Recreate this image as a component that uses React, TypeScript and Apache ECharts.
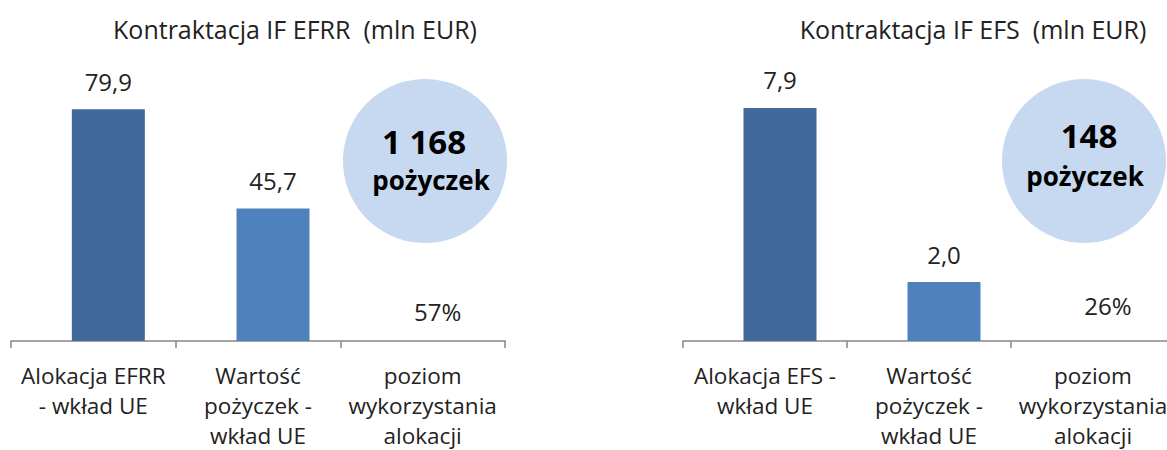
import React, { useEffect, useRef } from "react";
import * as echarts from "echarts";

const titleLeft = "Kontraktacja IF EFRR  (mln EUR)";
const titleRight = "Kontraktacja IF EFS  (mln EUR)";
const categoriesLeft = ["Alokacja EFRR\n- wkład UE", "Wartość\npożyczek -\nwkład UE", "poziom\nwykorzystania\nalokacji"];
const categoriesRight = ["Alokacja EFS -\nwkład UE", "Wartość\npożyczek -\nwkład UE", "poziom\nwykorzystania\nalokacji"];
// mln EUR values; third entry is the utilisation ratio (shown as %)
const valuesLeft = [79.9, 45.7, 0.57];
const valuesRight = [7.9, 2.0, 0.26];
const loansLeft = "1 168";
const loansRight = "148";
const loansWord = "pożyczek";

const FONT = "Open Sans";
const DARK = "#41699b";
const LIGHT = "#4f81bd";
const TEXT = "#222";
const CANVAS_W = 1220;

function fmtValue(v: number, i: number) {
  if (i === 2) return Math.round(v * 100) + "%";
  return v.toFixed(1).replace(".", ",");
}

function makeData(values: number[]) {
  return values.map((v, i) => ({
    value: v,
    itemStyle: { color: i === 0 ? DARK : i === 1 ? LIGHT : "transparent" },
  }));
}

export default function App() {
  const ref = useRef<HTMLDivElement>(null);
  useEffect(() => {
    if (!ref.current) return;
    const chart = echarts.init(ref.current, null, { renderer: "svg" });
    const visibleAxis = {
      type: "category" as const,
      axisLine: { lineStyle: { color: "#868686", width: 1.5 } },
      axisTick: { show: true, length: 7, lineStyle: { color: "#868686", width: 1.5 } },
      axisLabel: {
        interval: 0,
        hideOverlap: false,
        fontFamily: FONT,
        fontSize: 22.5,
        color: TEXT,
        lineHeight: 30,
        margin: 19,
      },
    };
    const hiddenAxis = { type: "category" as const, show: false };
    const labelCommon = {
      show: true,
      position: "top" as const,
      distance: 16,
      fontFamily: FONT,
      fontSize: 24,
      color: TEXT,
      formatter: (p: any) => fmtValue(p.value, p.dataIndex),
    };
    const titleStyle = { fontFamily: FONT, fontSize: 25, fontWeight: "normal" as const, color: TEXT };
    const bigText = { fontFamily: FONT, fontSize: 33, fontWeight: "bold" as const, fill: "#000", align: "center" as const, verticalAlign: "middle" as const };
    const smallText = { fontFamily: FONT, fontSize: 26, fontWeight: "bold" as const, fill: "#000", align: "center" as const, verticalAlign: "middle" as const };
    chart.setOption({
      animation: false,
      title: [
        { text: titleLeft, left: 290, top: 11, textAlign: "center", textStyle: titleStyle },
        { text: titleRight, left: 968, top: 11, textAlign: "center", textStyle: titleStyle },
      ],
      grid: [
        { left: 11, width: 494, top: 51, height: 290 },
        { left: 26, width: 494, top: 51, height: 290 },
        { left: 683, width: 492, top: 46, height: 295 },
        { left: 698, width: 492, top: 46, height: 295 },
      ],
      xAxis: [
        { ...visibleAxis, gridIndex: 0, data: categoriesLeft },
        { ...hiddenAxis, gridIndex: 1, data: categoriesLeft },
        { ...visibleAxis, gridIndex: 2, data: categoriesRight },
        { ...hiddenAxis, gridIndex: 3, data: categoriesRight },
      ],
      yAxis: [
        { type: "value", gridIndex: 0, min: 0, max: 100, show: false },
        { type: "value", gridIndex: 1, min: 0, max: 100, show: false },
        { type: "value", gridIndex: 2, min: 0, max: 10, show: false },
        { type: "value", gridIndex: 3, min: 0, max: 10, show: false },
      ],
      series: [
        {
          type: "bar",
          xAxisIndex: 1,
          yAxisIndex: 1,
          barWidth: 73,
          data: makeData(valuesLeft),
          label: labelCommon,
        },
        {
          type: "bar",
          xAxisIndex: 3,
          yAxisIndex: 3,
          barWidth: 73,
          data: makeData(valuesRight),
          label: labelCommon,
        },
      ],
      graphic: [
        { type: "circle", shape: { cx: 425, cy: 161, r: 82 }, style: { fill: "#c6d9f0" }, z: 1 },
        { type: "text", x: 424, y: 141, style: { text: loansLeft, ...bigText }, z: 2 },
        { type: "text", x: 431, y: 180, style: { text: loansWord, ...smallText }, z: 2 },
        { type: "circle", shape: { cx: 1084, cy: 161, r: 82 }, style: { fill: "#c6d9f0" }, z: 1 },
        { type: "text", x: 1089, y: 135, style: { text: loansRight, ...bigText }, z: 2 },
        { type: "text", x: 1085, y: 176, style: { text: loansWord, ...smallText }, z: 2 },
      ],
    });
    return () => chart.dispose();
  }, []);
  return (
    <div
      style={{ position: "absolute", left: 0, top: 0, width: 1167, height: 450, overflow: "hidden", background: "#fff" }}
    >
      <div ref={ref} style={{ width: CANVAS_W, height: 450 }} />
    </div>
  );
}
